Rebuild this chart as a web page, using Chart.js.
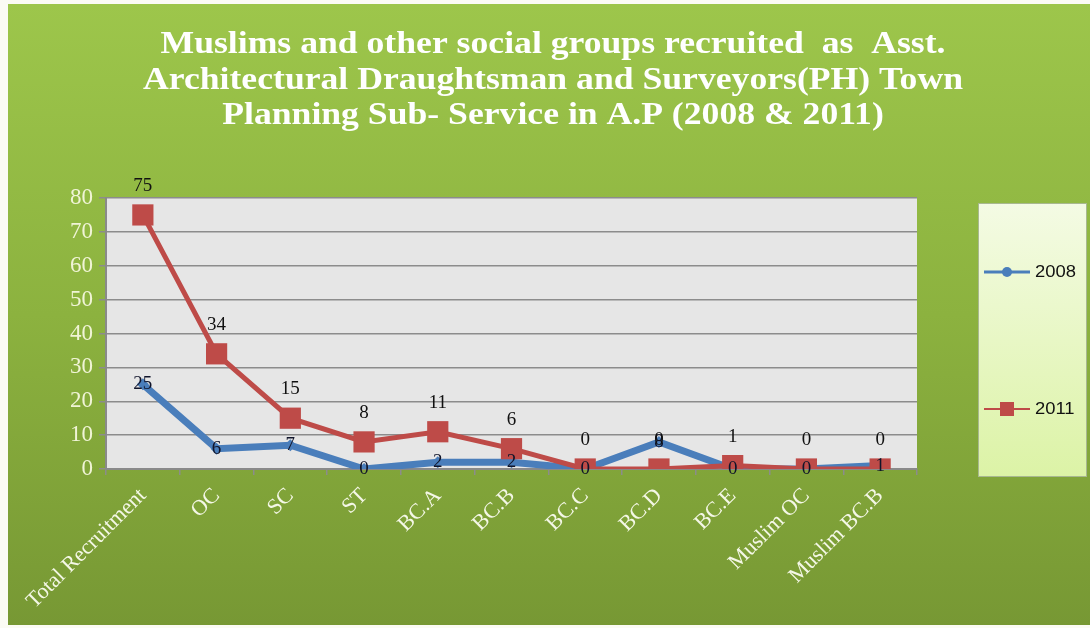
<!DOCTYPE html>
<html>
<head>
<meta charset="utf-8">
<title>Asst. Architectural Draughtsman and Surveyors recruitment</title>
<script src="https://cdn.jsdelivr.net/npm/chart.js@4.4.1/dist/chart.umd.min.js"></script>
<style>
  html, body { margin: 0; padding: 0; background: #ffffff; }
  #wrap { width: 1090px; height: 628px; position: relative; }
  canvas { display: block; }
</style>
</head>
<body>
<div id="wrap"><canvas id="chart" width="1090" height="628"></canvas></div>
<script>
// Categories and recruitment counts per social group
const categories = ['Total Recruitment', 'OC', 'SC', 'ST', 'BC.A', 'BC.B', 'BC.C', 'BC.D', 'BC.E', 'Muslim OC', 'Muslim BC.B'];
const recruited2008 = [25, 6, 7, 0, 2, 2, 0, 8, 0, 0, 1];
const recruited2011 = [75, 34, 15, 8, 11, 6, 0, 0, 1, 0, 0];
const seriesNames = ['2008', '2011'];
const yMin = 0;
const yMax = 80;
const yStep = 10;
const titleLines = [
  'Muslims and other social groups recruited  as  Asst.',
  'Architectural Draughtsman and Surveyors(PH) Town',
  'Planning Sub- Service in A.P (2008 & 2011)'
];

const BLUE = '#4a7ebb';
const RED = '#be4b48';
const SERIF = '"Liberation Serif", "Times New Roman", serif';
const SANS = '"Liberation Sans", Arial, sans-serif';

// Horizontally stretched text helper
function stretchedText(ctx, text, x, y, sx, align) {
  ctx.save();
  ctx.translate(x, y);
  ctx.scale(sx, 1);
  ctx.textAlign = align;
  ctx.fillText(text, 0, 0);
  ctx.restore();
}

const backdrop = {
  id: 'backdrop',
  beforeDraw(chart) {
    const { ctx, chartArea: a, width, height } = chart;
    ctx.save();
    ctx.fillStyle = '#fbfbf4';
    ctx.fillRect(0, 0, width, height);
    const g = ctx.createLinearGradient(0, 4, 0, 625);
    g.addColorStop(0, '#9dc64b');
    g.addColorStop(0.5, '#8cb23f');
    g.addColorStop(1, '#779834');
    ctx.fillStyle = g;
    ctx.fillRect(8, 4, width - 8, 621);
    ctx.fillStyle = '#e6e6e6';
    ctx.fillRect(a.left, a.top, a.right - a.left, a.bottom - a.top);
    ctx.restore();
  },
  afterDraw(chart) {
    const { ctx } = chart;
    // Title
    ctx.save();
    ctx.fillStyle = '#ffffff';
    ctx.font = 'bold 31px ' + SERIF;
    ctx.textBaseline = 'alphabetic';
    const baselines = [53, 89, 124];
    titleLines.forEach((t, i) => stretchedText(ctx, t, 553, baselines[i], 1.15, 'center'));
    ctx.restore();

    // Legend box
    ctx.save();
    const lx = 978, ly = 203, lw = 109, lh = 274;
    const lg = ctx.createLinearGradient(0, ly, 0, ly + lh);
    lg.addColorStop(0, '#f4fbe4');
    lg.addColorStop(1, '#dcf3a6');
    ctx.fillStyle = lg;
    ctx.fillRect(lx, ly, lw, lh);
    ctx.strokeStyle = '#a8b890';
    ctx.lineWidth = 1;
    ctx.strokeRect(lx + 0.5, ly + 0.5, lw - 1, lh - 1);

    const items = [
      { name: seriesNames[0], color: BLUE, y: 272, lineW: 3, marker: 'dot' },
      { name: seriesNames[1], color: RED, y: 409, lineW: 2, marker: 'square' }
    ];
    items.forEach(it => {
      ctx.strokeStyle = it.color;
      ctx.lineWidth = it.lineW;
      ctx.beginPath();
      ctx.moveTo(984, it.y);
      ctx.lineTo(1030, it.y);
      ctx.stroke();
      ctx.fillStyle = it.color;
      if (it.marker === 'dot') {
        ctx.beginPath();
        ctx.arc(1007, it.y, 5, 0, Math.PI * 2);
        ctx.fill();
      } else {
        ctx.fillRect(1000, it.y - 7, 14, 14);
      }
      ctx.fillStyle = '#111111';
      ctx.font = '16px ' + SANS;
      ctx.textBaseline = 'middle';
      stretchedText(ctx, it.name, 1035, it.y + 1, 1.15, 'left');
    });
    ctx.restore();
  }
};

// Value labels: 2008 centred on its points, 2011 above its points
const valueLabels = {
  id: 'valueLabels',
  afterDatasetsDraw(chart) {
    const { ctx } = chart;
    ctx.save();
    ctx.font = '19px ' + SERIF;
    ctx.textAlign = 'center';
    ctx.textBaseline = 'middle';
    chart.data.datasets.forEach((ds, di) => {
      const meta = chart.getDatasetMeta(di);
      meta.data.forEach((pt, i) => {
        const v = ds.data[i];
        const dy = ds.labelAbove ? -29 : 0;
        ctx.fillStyle = ds.labelAbove ? '#111111' : '#10142a';
        ctx.fillText(String(v), pt.x, pt.y + dy);
      });
    });
    ctx.restore();
  }
};

new Chart(document.getElementById('chart'), {
  type: 'line',
  data: {
    labels: categories,
    datasets: [
      {
        label: seriesNames[0],
        data: recruited2008,
        borderColor: BLUE,
        backgroundColor: BLUE,
        borderWidth: 7,
        pointStyle: 'rectRot',
        pointRadius: 6,
        pointBorderWidth: 0,
        tension: 0,
        order: 1,
        labelAbove: false
      },
      {
        label: seriesNames[1],
        data: recruited2011,
        borderColor: RED,
        backgroundColor: RED,
        borderWidth: 5,
        pointStyle: 'rect',
        pointRadius: 15,
        pointBorderWidth: 0,
        tension: 0,
        order: 0,
        labelAbove: true
      }
    ]
  },
  options: {
    responsive: false,
    devicePixelRatio: 1,
    animation: false,
    layout: { padding: { left: 8, top: 198, right: 173, bottom: 3 } },
    plugins: {
      legend: { display: false },
      title: { display: false },
      tooltip: { enabled: false }
    },
    scales: {
      x: {
        type: 'category',
        offset: true,
        grid: {
          display: true,
          offset: true,
          drawOnChartArea: false,
          drawTicks: true,
          tickLength: 6,
          color: '#8c8c8c',
          lineWidth: 1.5
        },
        border: { display: true, color: '#8a8a8a', width: 2 },
        ticks: {
          autoSkip: false,
          maxRotation: 45,
          minRotation: 45,
          padding: 8,
          color: '#f4f7e6',
          font: { family: SERIF, size: 22 }
        },
        afterFit(scale) { scale.height = 156; }
      },
      y: {
        min: yMin,
        max: yMax,
        grid: {
          color: '#8c8c8c',
          lineWidth: 1.5,
          drawTicks: true,
          tickLength: 7
        },
        border: { display: true, color: '#8a8a8a', width: 2 },
        ticks: {
          stepSize: yStep,
          padding: 6,
          color: '#f0f4d6',
          font: { family: SERIF, size: 23 }
        },
        afterFit(scale) { scale.width = 98; }
      }
    }
  },
  plugins: [backdrop, valueLabels]
});
</script>
</body>
</html>
